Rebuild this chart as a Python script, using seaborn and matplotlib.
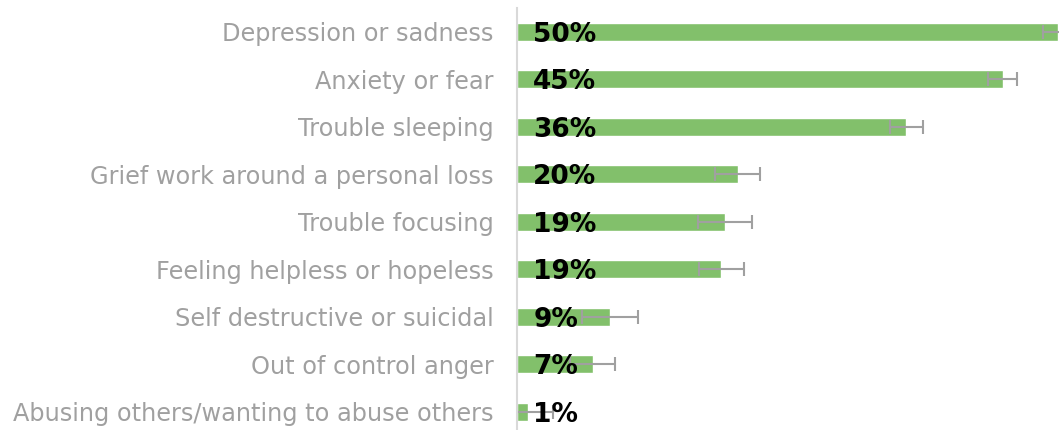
import pandas as pd
import seaborn as sns
import matplotlib.pyplot as plt

categories = [
    "Depression or sadness",
    "Anxiety or fear",
    "Trouble sleeping",
    "Grief work around a personal loss",
    "Trouble focusing",
    "Feeling helpless or hopeless",
    "Self destructive or suicidal",
    "Out of control anger",
    "Abusing others/wanting to abuse others",
]
values = [50.0, 44.9, 36.0, 20.4, 19.2, 18.9, 8.6, 7.0, 1.0]
errors = [1.4, 1.35, 1.5, 2.1, 2.5, 2.1, 2.6, 2.1, 2.3]
labels = ["50%", "45%", "36%", "20%", "19%", "19%", "9%", "7%", "1%"]

df = pd.DataFrame({"category": categories, "value": values, "err": errors})

sns.set_style("white")
plt.rcParams["font.family"] = ["DejaVu Sans"]

fig = plt.figure(figsize=(10.59, 4.30), dpi=100)
ax = fig.add_axes([517 / 1059, 0.0, 542 / 1059, 1 - 8 / 430])

sns.barplot(data=df, x="value", y="category", orient="h", color="#82c06b",
            saturation=1, width=0.38, ax=ax)
ax.errorbar(df["value"], range(len(df)), xerr=df["err"], fmt="none",
            ecolor="#a0a0a0", elinewidth=1.5, capsize=5, capthick=1.5,
            clip_on=True)

# value labels sit at the start of each bar
for i, lab in enumerate(labels):
    ax.text(1.5, i + 0.06, lab, va="center", ha="left", fontsize=19,
            fontweight="bold", color="black")

ax.set_xlim(0, 50.1)
ax.set_ylim(8.384, -0.5)
ax.set_xlabel("")
ax.set_ylabel("")
ax.set_xticks([])
ax.tick_params(axis="y", length=0, pad=17, labelsize=17.3, labelcolor="#a0a0a0")

for side in ["top", "right", "bottom"]:
    ax.spines[side].set_visible(False)
ax.spines["left"].set_color("#d9d9d9")
ax.spines["left"].set_linewidth(1.5)

fig.savefig("out.png", dpi=100)
